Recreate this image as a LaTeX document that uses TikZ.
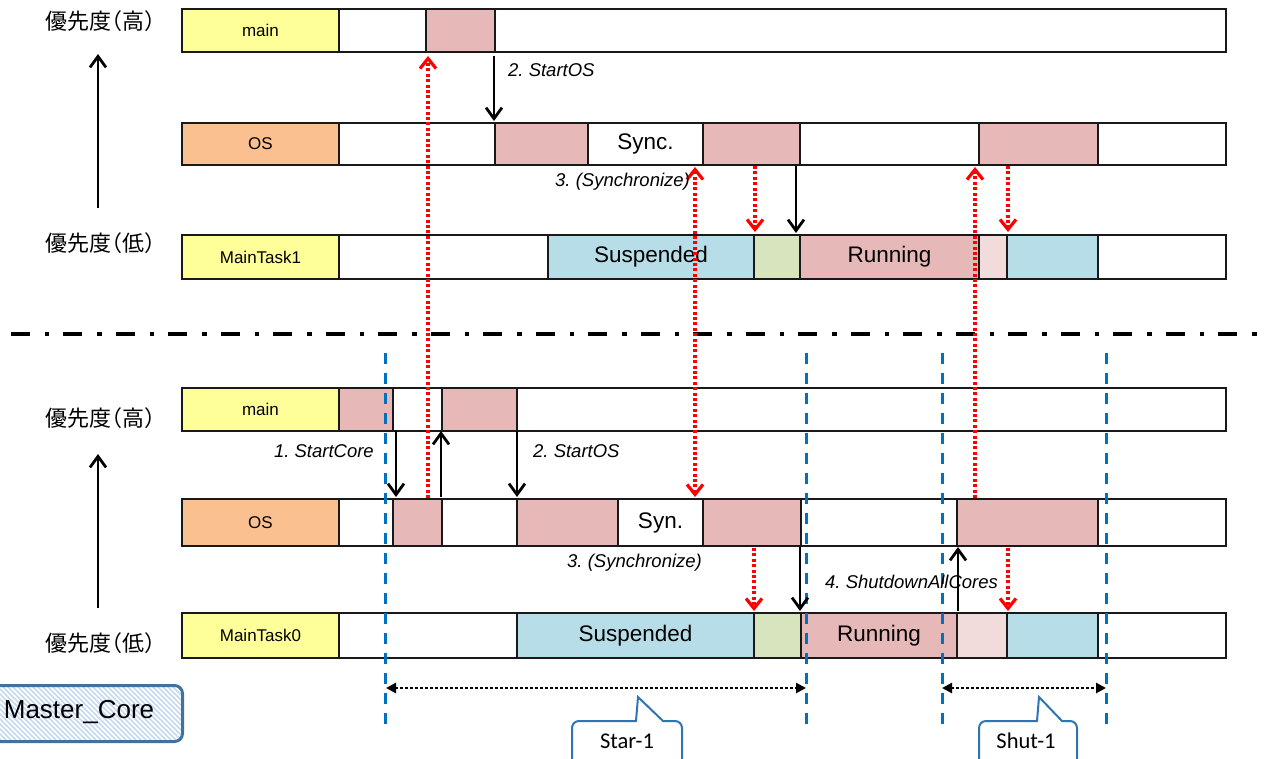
\documentclass[tikz,border=0pt]{standalone}
\usepackage{fontspec}
\setmainfont{Liberation Sans}
\newfontfamily\jpfont[RawFeature=+halt]{Noto Sans CJK JP}
\newfontfamily\calfont{Carlito}
\usetikzlibrary{arrows.meta}

\definecolor{cyel}{HTML}{FFFF99}
\definecolor{corg}{HTML}{FAC090}
\definecolor{cpnk}{HTML}{E6B9B8}
\definecolor{cblu}{HTML}{B7DEE8}
\definecolor{cgrn}{HTML}{D7E4BD}
\definecolor{clpk}{HTML}{F2DCDB}
\definecolor{cdash}{HTML}{0070C0}
\definecolor{ccall}{HTML}{2E75B6}
\definecolor{cmcb}{HTML}{41719C}
\definecolor{cstr}{HTML}{C5D9F1}
\definecolor{cred}{HTML}{FF0000}

\newcommand\lblfont{\fontsize{17}{20}\selectfont}
\newcommand\bigfnt{\fontsize{22.5}{26}\selectfont}
\newcommand\itfnt{\fontsize{18.5}{22}\selectfont\itshape}
\newcommand\jpfnt{\fontsize{22}{26}\selectfont\jpfont}

\newcommand\tseg[7]{\node[segbox, fill=#6, minimum width={#3pt-#2pt}, minimum height=#5pt] (#1) at (#2,#4) {#7};}

\begin{document}
\frenchspacing
\begin{tikzpicture}[x=1pt,y=-1pt,
  segbox/.style={draw=black!90, line width=2pt, inner sep=0pt, anchor=north west, font=\lblfont},
  blk/.style={line width=2.8pt, -{Straight Barb[length=11pt,width=16pt]}},
  redl/.style={cred, line width=3.2pt, dash pattern=on 3pt off 2.4pt},
  redarr/.style={redl, -{Straight Barb[length=10pt,width=16pt]}},
  redarrb/.style={redl, {Straight Barb[length=10pt,width=16pt]}-{Straight Barb[length=10pt,width=16pt]}},
  bluedash/.style={cdash, line width=3pt, dash pattern=on 11pt off 9pt},
  dotarr/.style={line width=2.6pt, dash pattern=on 2.6pt off 2.4pt, {Triangle[length=10pt,width=10pt]}-{Triangle[length=10pt,width=10pt]}},
  itlbl/.style={font=\itfnt, inner sep=0pt},
  jplbl/.style={font=\jpfnt, inner sep=0pt},
  callout/.style={draw=ccall, line width=2pt, fill=white},
  calltxt/.style={font=\calfont\fontsize{22.5}{26}\selectfont, inner sep=0pt},
]
\useasboundingbox (0,0) rectangle (1265,758);

% ---------- top section ----------
\tseg{a1}{181}{338}{8}{43}{cyel}{main}
\tseg{a2}{338}{425}{8}{43}{white}{}
\tseg{a3}{425}{494}{8}{43}{cpnk}{}
\tseg{a4}{494}{1225}{8}{43}{white}{}

\tseg{b1}{181}{338}{122}{42}{corg}{OS}
\tseg{b2}{338}{494}{122}{42}{white}{}
\tseg{b3}{494}{587}{122}{42}{cpnk}{}
\tseg{b4}{587}{702}{122}{42}{white}{\bigfnt Sync.}
\tseg{b5}{702}{799}{122}{42}{cpnk}{}
\tseg{b6}{799}{978}{122}{42}{white}{}
\tseg{b7}{978}{1097}{122}{42}{cpnk}{}
\tseg{b8}{1097}{1225}{122}{42}{white}{}

\tseg{c1}{181}{338}{234}{44}{cyel}{MainTask1}
\tseg{c2}{338}{547}{234}{44}{white}{}
\tseg{c3}{547}{753}{234}{44}{cblu}{\bigfnt Suspended}
\tseg{c4}{753}{799}{234}{44}{cgrn}{}
\tseg{c5}{799}{978}{234}{44}{cpnk}{\bigfnt Running}
\tseg{c6}{978}{1006}{234}{44}{clpk}{}
\tseg{c7}{1006}{1097}{234}{44}{cblu}{}
\tseg{c8}{1097}{1225}{234}{44}{white}{}

% ---------- bottom section ----------
\tseg{d1}{181}{338}{387}{43}{cyel}{main}
\tseg{d2}{338}{392}{387}{43}{cpnk}{}
\tseg{d3}{392}{441}{387}{43}{white}{}
\tseg{d4}{441}{516}{387}{43}{cpnk}{}
\tseg{d5}{516}{1225}{387}{43}{white}{}

\tseg{e1}{181}{338}{498}{47}{corg}{OS}
\tseg{e2}{338}{392}{498}{47}{white}{}
\tseg{e3}{392}{441}{498}{47}{cpnk}{}
\tseg{e4}{441}{516}{498}{47}{white}{}
\tseg{e5}{516}{617}{498}{47}{cpnk}{}
\tseg{e6}{617}{702}{498}{47}{white}{\bigfnt Syn.}
\tseg{e7}{702}{800}{498}{47}{cpnk}{}
\tseg{e8}{800}{956}{498}{47}{white}{}
\tseg{e9}{956}{1097}{498}{47}{cpnk}{}
\tseg{e10}{1097}{1225}{498}{47}{white}{}

\tseg{f1}{181}{338}{612}{45}{cyel}{MainTask0}
\tseg{f2}{338}{516}{612}{45}{white}{}
\tseg{f3}{516}{753}{612}{45}{cblu}{\bigfnt Suspended}
\tseg{f4}{753}{800}{612}{45}{cgrn}{}
\tseg{f5}{800}{956}{612}{45}{cpnk}{\bigfnt Running}
\tseg{f6}{956}{1006}{612}{45}{clpk}{}
\tseg{f7}{1006}{1097}{612}{45}{cblu}{}
\tseg{f8}{1097}{1225}{612}{45}{white}{}

% ---------- separator ----------
\coordinate (sepL) at (10.7,334);
\coordinate (sepR) at (1268,334);
\draw[line width=4.7pt, dash pattern=on 19pt off 15pt on 4.5pt off 14pt] (sepL) -- (sepR);

% ---------- blue dashed markers ----------
\foreach \x/\n in {385/v1,806/v2,942/v3,1106/v4}{
  \coordinate (\n t) at (\x,353);
  \coordinate (\n b) at (\x,725);
  \draw[bluedash] (\n t) -- (\n b);
}

% ---------- priority labels ----------
\node[jplbl] (ph1) at (100,21) {優先度（高）};
\node[jplbl] (pl1) at (100,243) {優先度（低）};
\node[jplbl] (ph2) at (100,418) {優先度（高）};
\node[jplbl] (pl2) at (100,643) {優先度（低）};
\coordinate (pa1s) at (98,208); \coordinate (pa1e) at (98,54);
\coordinate (pa2s) at (98,608); \coordinate (pa2e) at (98,454);
\draw[blk] (pa1s) -- (pa1e);
\draw[blk] (pa2s) -- (pa2e);

% ---------- red dotted arrows ----------
\coordinate (r1s) at (428,498); \coordinate (r1e) at (428,56);
\draw[redarr] (r1s) -- (r1e);
\coordinate (r2s) at (695,167); \coordinate (r2e) at (695,497);
\draw[redarrb] (r2s) -- (r2e);
\coordinate (r3s) at (755,166); \coordinate (r3e) at (755,232);
\draw[redarr] (r3s) -- (r3e);
\coordinate (r4s) at (975,498); \coordinate (r4e) at (975,167);
\draw[redarr] (r4s) -- (r4e);
\coordinate (r5s) at (1008,166); \coordinate (r5e) at (1008,232);
\draw[redarr] (r5s) -- (r5e);
\coordinate (r6s) at (754,548); \coordinate (r6e) at (754,611);
\draw[redarr] (r6s) -- (r6e);
\coordinate (r7s) at (1008,548); \coordinate (r7e) at (1008,611);
\draw[redarr] (r7s) -- (r7e);

% ---------- black call arrows ----------
\coordinate (k1s) at (494,56);  \coordinate (k1e) at (494,121);
\draw[blk] (k1s) -- (k1e);
\coordinate (k2s) at (796,166); \coordinate (k2e) at (796,233);
\draw[blk] (k2s) -- (k2e);
\coordinate (k3s) at (396,431); \coordinate (k3e) at (396,497);
\draw[blk] (k3s) -- (k3e);
\coordinate (k4s) at (441,497); \coordinate (k4e) at (441,431);
\draw[blk] (k4s) -- (k4e);
\coordinate (k5s) at (517,431); \coordinate (k5e) at (517,497);
\draw[blk] (k5s) -- (k5e);
\coordinate (k6s) at (800,547); \coordinate (k6e) at (800,611);
\draw[blk] (k6s) -- (k6e);
\coordinate (k7s) at (958,611); \coordinate (k7e) at (958,547);
\draw[blk] (k7s) -- (k7e);

% ---------- italic labels ----------
\node[itlbl, anchor=west] (t1) at (508,70) {2. StartOS};
\node[itlbl, anchor=west] (t2) at (555,182) {3. (Synchronize)};
\node[itlbl, anchor=east] (t3) at (374,451) {1. StartCore};
\node[itlbl, anchor=west] (t4) at (533,451) {2. StartOS};
\node[itlbl, anchor=west] (t5) at (567,563) {3. (Synchronize)};
\node[itlbl, anchor=west] (t6) at (825,582) {4. ShutdownAllCores};

% ---------- interval arrows ----------
\coordinate (s1a) at (386,688); \coordinate (s1b) at (806,688);
\draw[dotarr] (s1a) -- (s1b);
\coordinate (s2a) at (942,688); \coordinate (s2b) at (1106,688);
\draw[dotarr] (s2a) -- (s2b);

% ---------- callouts ----------
\draw[callout] (638,697) -- (663,721) [rounded corners=7pt] -- (682,721) -- (682,775) -- (572,775) -- (572,721) [sharp corners] -- (636,721) -- cycle;
\node[calltxt] (star) at (627,741) {Star-1};
\draw[callout] (1039,697) -- (1062,721) [rounded corners=7pt] -- (1077,721) -- (1077,775) -- (979,775) -- (979,721) [sharp corners] -- (1037,721) -- cycle;
\node[calltxt] (shut) at (1026,741) {Shut-1};

% ---------- Master_Core box ----------
\begin{scope}
  \clip[rounded corners=8pt] (-10,684) rectangle (181,740);
  \fill[white] (-10,684) rectangle (181,740);
  \foreach \i in {-80,-75,...,200}{
    \draw[cstr, line width=1.7pt] (\i,684) -- (\i+56,740);
  }
\end{scope}
\node[draw=cmcb, line width=3pt, rounded corners=8pt, minimum width=191pt, minimum height=56pt, anchor=north west, inner sep=0pt] (mc) at (-10,684) {};
\node[font=\fontsize{26}{30}\selectfont, inner sep=0pt] (mct) at (79,712) {Master\_Core};
\end{tikzpicture}
\end{document}
